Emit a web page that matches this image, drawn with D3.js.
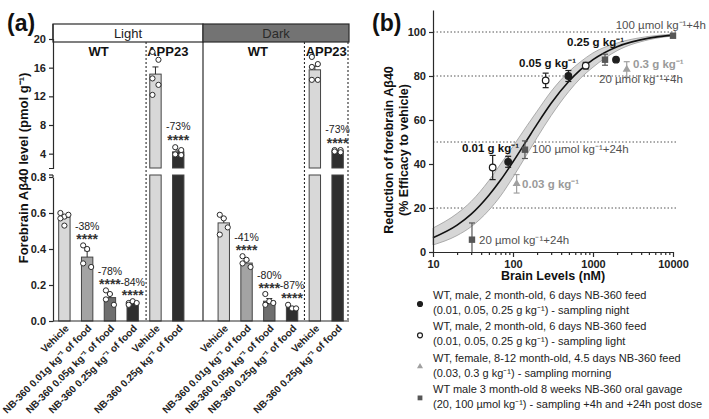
<!DOCTYPE html>
<html><head><meta charset="utf-8">
<script src="https://cdn.jsdelivr.net/npm/d3@7"></script>
<style>body{margin:0;background:#fff}svg{font-family:"Liberation Sans",Arial,Helvetica,sans-serif}</style>
</head><body><svg id="c" width="709" height="419"></svg>
<script>
// ---------------- Panel (a) data ----------------
const slots      = ["L_veh","L_01","L_05","L_25","L_appveh","L_app25","gap","D_veh","D_01","D_05","D_25","D_appveh","D_app25"];
const slotDose   = ["veh","0.01","0.05","0.25","veh","0.25",null,"veh","0.01","0.05","0.25","veh","0.25"];
const slotGenotype = ["WT","WT","WT","WT","APP23","APP23",null,"WT","WT","WT","WT","APP23","APP23"];
const barLabels  = ["Vehicle","NB-360 0.01g kg\u207B\u00B9 of food","NB-360 0.05g kg\u207B\u00B9 of food","NB-360 0.25g kg\u207B\u00B9 of food","Vehicle","NB-360 0.25g kg\u207B\u00B9 of food","",
                    "Vehicle","NB-360 0.01g kg\u207B\u00B9 of food","NB-360 0.05g kg\u207B\u00B9 of food","NB-360 0.25g kg\u207B\u00B9 of food","Vehicle","NB-360 0.25g kg\u207B\u00B9 of food"];
const barMeans   = [0.575,0.355,0.13,0.097,15.1,4.25,null,0.545,0.322,0.11,0.075,15.7,4.35];
const barSEM     = [0.012,0.035,0.02,0.005,1.0,0.25,null,0.025,0.013,0.015,0.005,0.5,0.08];
const barPoints  = [
  [0.60,0.58,0.59,0.57,0.53],
  [0.42,0.40,0.30,0.32],
  [0.17,0.15,0.09,0.12],
  [0.10,0.11,0.10,0.09],
  [18.2,17.1,14.5,13.6,12.2],
  [4.9,4.5,3.9,3.8],
  [],
  [0.59,0.57,0.52,0.48],
  [0.36,0.34,0.30,0.32],
  [0.15,0.11,0.10,0.09],
  [0.09,0.07,0.07],
  [17.5,16.5,16.1,14.3,14.3],
  [4.5,4.5,4.3,4.2]
];
const barPct     = ["","-38%","-78%","-84%","","-73%","","","-41%","-80%","-87%","","-73%"];
const barStars   = ["","****","****","****","","****","","","****","****","****","","****"];
const lowTicks   = [0,0.2,0.4,0.6,0.8];
const highTicks  = [4,8,12,16,20];
const sections   = ["Light","Dark"];

// ---------------- Panel (b) data ----------------
const xTickVals  = [10,100,1000,10000];
const yTickVals  = [0,20,40,60,80,100];
const gridVals   = [100,80,50,20];
const curveX     = [10,20,30,50,70,100,150,200,300,500,700,1000,2000,5000,10000];
const curveY     = [6.5,12.2,17.2,25.8,32.7,41.0,51.0,58.1,67.6,77.6,82.9,87.4,93.3,97.2,98.6];
const bandLo     = [3.2,7.5,11.5,19.0,25.5,34.0,44.5,52.0,62.0,73.0,79.0,84.0,91.5,96.5,98.2];
const bandHi     = [10.9,17.5,23.0,32.5,40.0,48.0,57.5,64.0,73.0,82.0,86.5,90.5,95.0,98.0,99.0];
const nightX = [87,492,1940],          nightY = [41,80,87.4],          nightErr = [2.5,2.5,0];
const lightX = [55.7,256,811],         lightY = [38.4,78,84.7],        lightErr = [5.5,3.3,1.5];
const femX   = [111,2640],             femY   = [31,83],               femErr   = [4.2,3.5];
const gavX   = [30.7,141,1413,10000],  gavY   = [5.6,46.5,87.4,98.3],  gavErr   = [7.6,4,2.5,0];
const annText = ["100 \u00B5mol kg\u207B\u00B9+4h","0.25 g kg\u207B\u00B9","0.05 g kg\u207B\u00B9","0.3 g kg\u207B\u00B9","20 \u00B5mol kg\u207B\u00B9+4h",
                 "0.01 g kg\u207B\u00B9","100 \u00B5mol kg\u207B\u00B9+24h","0.03 g kg\u207B\u00B9","20 \u00B5mol kg\u207B\u00B9+24h"];
const annX    = [1920,473,119,3162,1189,23,173,130,37.6];
const annY    = [101.5,93.8,84.2,83.8,77,45.6,45.1,29.2,3.8];
const annKind = ["gav","night","night","fem","gav","night","gav","fem","gav"];
const legendLines = [
  ["WT, male, 2 month-old, 6 days NB-360 feed","(0.01, 0.05, 0.25 g kg\u207B\u00B9) - sampling night"],
  ["WT, male, 2 month-old, 6 days NB-360 feed","(0.01, 0.05, 0.25 g kg\u207B\u00B9) - sampling light"],
  ["WT, female, 8-12 month-old, 4.5 days NB-360 feed","(0.03, 0.3 g kg\u207B\u00B9) - sampling morning"],
  ["WT male 3 month-old 8 weeks NB-360 oral gavage","(20, 100 \u00B5mol kg\u207B\u00B9) - sampling +4h and +24h post dose"]
];
const legendKinds = ["night","light","fem","gav"];

// ======================================================
const svg = d3.select("#c");
const ink = "#2a2a2a";
const doseFill = {"veh":"#d8d8d8","0.01":"#a3a3a3","0.05":"#6f6f6f","0.25":"#2f2f2f"};

// ---------- Panel (a) ----------
const A = svg.append("g");
const x = d3.scaleBand().domain(slots).range([53,349]).paddingInner(0.5).paddingOuter(0.25);
const yLow = d3.scaleLinear().domain([0,0.8]).range([321,177]);
const yHigh = d3.scaleLinear().domain([2,20]).range([168,39]);
const lowTop = 175, plotTop = 24, headBot = 42;
const xLeft = x.range()[0], xRight = x.range()[1];
const divX = x("gap") + x.bandwidth()/2 + 2;

A.append("rect").attr("x",xLeft).attr("y",plotTop).attr("width",divX-xLeft).attr("height",headBot-plotTop)
 .attr("fill","#fff").attr("stroke",ink).attr("stroke-width",1.2);
A.append("rect").attr("x",divX).attr("y",plotTop).attr("width",xRight-divX).attr("height",headBot-plotTop)
 .attr("fill","#737373").attr("stroke",ink).attr("stroke-width",1.2);
A.append("text").attr("x",(xLeft+divX)/2).attr("y",38).attr("text-anchor","middle").attr("font-size",13).attr("fill","#222").text(sections[0]);
A.append("text").attr("x",(divX+xRight)/2).attr("y",38).attr("text-anchor","middle").attr("font-size",13).attr("fill","#2a2a2a").text(sections[1]);

A.append("line").attr("x1",divX).attr("x2",divX).attr("y1",headBot).attr("y2",321).attr("stroke",ink).attr("stroke-width",1.2);
const dashXs = [(x("L_25")+x.bandwidth()+x("L_appveh"))/2 + 2, (x("D_25")+x.bandwidth()+x("D_appveh"))/2 + 1, xRight-1];
dashXs.forEach(dx=>A.append("line").attr("x1",dx).attr("x2",dx).attr("y1",headBot).attr("y2",321)
  .attr("stroke",ink).attr("stroke-width",1.1).attr("stroke-dasharray","2,2"));

[["WT",(x("L_veh")+x("L_25")+x.bandwidth())/2],["APP23",(x("L_appveh")+x("L_app25")+x.bandwidth())/2+1],
 ["WT",(x("D_veh")+x("D_25")+x.bandwidth())/2],["APP23",(x("D_appveh")+x("D_app25")+x.bandwidth())/2]]
 .forEach(([t,cx])=>A.append("text").attr("x",cx).attr("y",56).attr("text-anchor","middle")
   .attr("font-size",13).attr("font-weight","bold").attr("fill","#111").text(t));

function annot(g,cx,ytop,pct,stars,high){
  g.append("text").attr("x",cx).attr("y",ytop-(high?17:15.5)).attr("text-anchor","middle").attr("font-size",10.5).attr("fill","#222").text(pct);
  g.append("text").attr("x",cx).attr("y",ytop-(high?2.5:1.5)).attr("text-anchor","middle").attr("font-size",14).attr("font-weight","bold").attr("fill","#333").text(stars);
}

slots.forEach((s,i)=>{
  if(barMeans[i]===null) return;
  const bx = x(s), bw = x.bandwidth(), cx = bx+bw/2;
  const fill = doseFill[slotDose[i]];
  const g = A.append("g");
  const isWT = slotGenotype[i]==="WT";
  const ys = isWT ? yLow : yHigh;
  if(isWT){
    g.append("rect").attr("x",bx).attr("y",yLow(barMeans[i])).attr("width",bw).attr("height",yLow(0)-yLow(barMeans[i]))
      .attr("fill",fill).attr("stroke","#444").attr("stroke-width",1);
  } else {
    g.append("rect").attr("x",bx).attr("y",yHigh(barMeans[i])).attr("width",bw).attr("height",yHigh(2)-yHigh(barMeans[i]))
      .attr("fill",fill).attr("stroke","#444").attr("stroke-width",1);
    g.append("rect").attr("x",bx).attr("y",lowTop).attr("width",bw).attr("height",yLow(0)-lowTop)
      .attr("fill",fill).attr("stroke","#444").attr("stroke-width",1);
  }
  const top = ys(barMeans[i]+barSEM[i]);
  g.append("line").attr("x1",cx).attr("x2",cx).attr("y1",ys(barMeans[i])).attr("y2",top).attr("stroke",ink);
  g.append("line").attr("x1",cx-3).attr("x2",cx+3).attr("y1",top).attr("y2",top).attr("stroke",ink);
  barPoints[i].forEach((v,k)=>g.append("circle").attr("cx",cx+(isWT?((k%3)-1)*4:((k%2)?3:-3))).attr("cy",ys(v)).attr("r",2.6)
    .attr("fill","#fff").attr("stroke",ink).attr("stroke-width",1));
  const mx = Math.max(d3.max(barPoints[i]), barMeans[i]+barSEM[i]);
  if(barPct[i]) annot(g,cx,ys(mx),barPct[i],barStars[i],!isWT);
});

const axLow = A.append("g").attr("transform",`translate(${xLeft},0)`)
  .call(d3.axisLeft(yLow).tickValues(lowTicks).tickFormat(d3.format(".1f")).tickSize(4).tickSizeOuter(0));
const axHigh = A.append("g").attr("transform",`translate(${xLeft},0)`)
  .call(d3.axisLeft(yHigh).tickValues(highTicks).tickFormat(d3.format("d")).tickSize(4).tickSizeOuter(4));
[axLow,axHigh].forEach(ax=>{
  ax.selectAll("text").attr("font-size",11).attr("font-weight","bold").attr("fill","#222").attr("font-family","Liberation Sans, Arial, sans-serif");
  ax.selectAll("line,path").attr("stroke",ink).attr("stroke-width",1.2);
});
A.append("line").attr("x1",xLeft).attr("x2",xLeft).attr("y1",plotTop).attr("y2",yHigh(20)).attr("stroke",ink).attr("stroke-width",1.2);
A.append("line").attr("x1",xLeft).attr("x2",xLeft).attr("y1",lowTop).attr("y2",yLow(0.8)).attr("stroke",ink).attr("stroke-width",1.2);
A.append("line").attr("x1",xLeft-4).attr("x2",xLeft).attr("y1",lowTop).attr("y2",lowTop).attr("stroke",ink).attr("stroke-width",1.2);
A.append("line").attr("x1",xLeft).attr("x2",xRight).attr("y1",yLow(0)).attr("y2",yLow(0)).attr("stroke",ink).attr("stroke-width",1.2);

slots.forEach((s,i)=>{
  if(!barLabels[i]) return;
  const cx = x(s)+x.bandwidth()/2;
  A.append("text").attr("transform",`translate(${cx+5},${yLow(0)+8}) rotate(-45)`).attr("text-anchor","end")
   .attr("font-size",10).attr("font-weight","bold").attr("fill","#222").text(barLabels[i]);
});

A.append("text").attr("transform","translate(28,168) rotate(-90)").attr("text-anchor","middle")
 .attr("font-size",13).attr("font-weight","bold").attr("fill","#111").text("Forebrain A\u03B240 level (pmol g\u207B\u00B9)");
svg.append("text").attr("x",7).attr("y",31).attr("font-size",23).attr("font-weight","bold").attr("fill","#111").text("(a)");

// ---------- Panel (b) ----------
const B = svg.append("g");
const xs = d3.scaleLog().domain([10,10000]).range([433,673]);
const ys = d3.scaleLinear().domain([0,110]).range([252,10]);

gridVals.forEach(v=>B.append("line").attr("x1",xs(10)).attr("x2",xs(10000)+3).attr("y1",ys(v)).attr("y2",ys(v))
  .attr("stroke","#555").attr("stroke-width",1).attr("stroke-dasharray","1.5,2"));

const band = d3.area().x((d,i)=>xs(curveX[i])).y0((d,i)=>ys(bandLo[i])).y1((d,i)=>ys(bandHi[i])).curve(d3.curveMonotoneX);
B.append("path").attr("d",band(curveX)).attr("fill","#d6d6d6").attr("stroke","#9a9a9a").attr("stroke-width",0.8);
const line = d3.line().x((d,i)=>xs(curveX[i])).y((d,i)=>ys(curveY[i])).curve(d3.curveMonotoneX);
B.append("path").attr("d",line(curveX)).attr("fill","none").attr("stroke","#111").attr("stroke-width",1.6);

const bx = B.append("g").attr("transform",`translate(0,${ys(0)})`)
  .call(d3.axisBottom(xs).tickValues(xTickVals).tickFormat(d3.format("d")).tickSize(5).tickSizeOuter(0));
const bxm = B.append("g").attr("transform",`translate(0,${ys(0)})`)
  .call(d3.axisBottom(xs).tickValues(xs.ticks().filter(v=>!xTickVals.includes(v))).tickFormat("").tickSize(3).tickSizeOuter(0));
const by = B.append("g").attr("transform",`translate(${xs(10)},0)`)
  .call(d3.axisLeft(ys).tickValues(yTickVals).tickSize(4).tickSizeOuter(0));
[bx,bxm,by].forEach(ax=>{
  ax.selectAll("text").attr("font-size",11).attr("font-weight","bold").attr("fill","#222").attr("font-family","Liberation Sans, Arial, sans-serif");
  ax.selectAll("line,path").attr("stroke",ink).attr("stroke-width",1.2);
});
B.append("text").attr("x",553).attr("y",280).attr("text-anchor","middle").attr("font-size",12.5).attr("font-weight","bold").attr("fill","#111").text("Brain Levels (nM)");
B.append("text").attr("transform","translate(393,150) rotate(-90)").attr("text-anchor","middle").attr("font-size",12.5).attr("font-weight","bold").attr("fill","#111").text("Reduction of forebrain A\u03B240");
B.append("text").attr("transform","translate(408,150) rotate(-90)").attr("text-anchor","middle").attr("font-size",12.5).attr("font-weight","bold").attr("fill","#111").text("(% Efficacy to vehicle)");
svg.append("text").attr("x",372).attr("y",31).attr("font-size",23).attr("font-weight","bold").attr("fill","#111").text("(b)");

const kindStyle = {night:{fill:"#1e1e1e",stroke:"#1e1e1e",col:"#111"}, light:{fill:"#fff",stroke:"#1e1e1e",col:"#111"},
                   fem:{fill:"#a0a0a0",stroke:"#a0a0a0",col:"#9a9a9a"}, gav:{fill:"#575757",stroke:"#575757",col:"#505050"}};
function marker(g,kind,cx,cy,scale){
  const st = kindStyle[kind]; scale = scale||1;
  if(kind==="night"||kind==="light") g.append("circle").attr("cx",cx).attr("cy",cy).attr("r",3.3*scale).attr("fill",st.fill).attr("stroke",st.stroke).attr("stroke-width",1.2);
  else if(kind==="fem") g.append("path").attr("d",d3.symbol(d3.symbolTriangle, 28*scale*scale)()).attr("transform",`translate(${cx},${cy})`).attr("fill",st.fill);
  else g.append("rect").attr("x",cx-3.2*scale).attr("y",cy-3.2*scale).attr("width",6.4*scale).attr("height",6.4*scale).attr("fill",st.fill);
}
function series(kind,X,Y,E){
  const st = kindStyle[kind];
  X.forEach((xv,i)=>{
    const cx = xs(xv), cy = ys(Y[i]);
    if(E[i]>0){
      const t = ys(Y[i]+E[i]), b = ys(Math.max(0,Y[i]-E[i]));
      B.append("line").attr("x1",cx).attr("x2",cx).attr("y1",t).attr("y2",b).attr("stroke",st.stroke).attr("stroke-width",1.2);
      B.append("line").attr("x1",cx-3).attr("x2",cx+3).attr("y1",t).attr("y2",t).attr("stroke",st.stroke).attr("stroke-width",1.2);
      if(Y[i]-E[i]>0) B.append("line").attr("x1",cx-3).attr("x2",cx+3).attr("y1",b).attr("y2",b).attr("stroke",st.stroke).attr("stroke-width",1.2);
    }
    marker(B,kind,cx,cy);
  });
}
series("gav",gavX,gavY,gavErr);
series("fem",femX,femY,femErr);
series("light",lightX,lightY,lightErr);
series("night",nightX,nightY,nightErr);

annText.forEach((t,i)=>{
  const k = annKind[i];
  B.append("text").attr("x",xs(annX[i])).attr("y",ys(annY[i])).attr("font-size",11.5)
   .attr("font-weight", k==="gav"?"normal":"bold").attr("fill",kindStyle[k].col).text(t);
});

const legTop = 299, legGap = 31.3;
legendLines.forEach((lns,i)=>{
  const y0 = legTop + i*legGap;
  marker(svg,legendKinds[i],420,y0+5,0.75);
  lns.forEach((t,j)=>svg.append("text").attr("x",433).attr("y",y0+j*15).attr("font-size",11).attr("fill","#222").text(t));
});
</script></body></html>
